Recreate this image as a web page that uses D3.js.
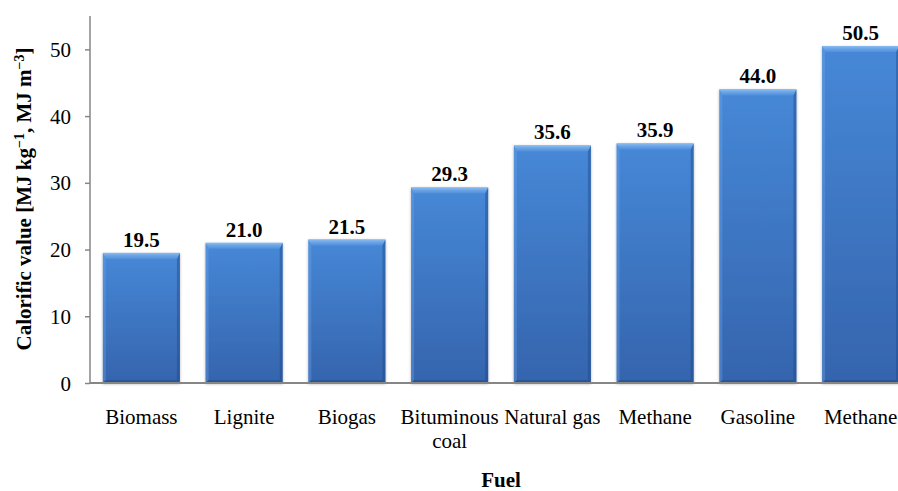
<!DOCTYPE html>
<html>
<head>
<meta charset="utf-8">
<script src="https://cdn.jsdelivr.net/npm/d3@7"></script>
<style>
  body { margin: 0; background: #fff; }
  svg text { font-family: "Liberation Serif", "DejaVu Serif", "Times New Roman", serif !important; fill: #000; }
</style>
</head>
<body>
<div class="chart"></div>
<script>
// calorific values of fuels
var fuels = ["Biomass", "Lignite", "Biogas", "Bituminous coal", "Natural gas", "Methane", "Gasoline", "Methane"];
var values = [19.5, 21.0, 21.5, 29.3, 35.6, 35.9, 44.0, 50.5];
var yTicks = [0, 10, 20, 30, 40, 50];

WIDTH = 898
HEIGHT = 491
LEFT = 90
TOP = 16
BOTTOM = 383
RIGHT = 912   // plot area runs past the picture edge, as in the original

var svg = d3.select(".chart").append("svg")
	.attr("width", WIDTH)
	.attr("height", HEIGHT);

var defs = svg.append("defs");

var body = defs.append("linearGradient")
	.attr("id", "barBody")
	.attr("x1", 0).attr("y1", 0).attr("x2", 0).attr("y2", 1);
body.append("stop").attr("offset", "0%").attr("stop-color", "#4688d7");
body.append("stop").attr("offset", "100%").attr("stop-color", "#3564ad");

var topFace = defs.append("linearGradient")
	.attr("id", "topFace")
	.attr("x1", 0).attr("y1", 0).attr("x2", 0).attr("y2", 1);
topFace.append("stop").attr("offset", "0%").attr("stop-color", "#9ccaf7").attr("stop-opacity", 0.8);
topFace.append("stop").attr("offset", "100%").attr("stop-color", "#6fa8ec").attr("stop-opacity", 0.3);

var shadow = defs.append("filter")
	.attr("id", "shadow")
	.attr("x", "-10%").attr("y", "-10%").attr("width", "120%").attr("height", "120%");
shadow.append("feGaussianBlur").attr("in", "SourceAlpha").attr("stdDeviation", 1.5);
shadow.append("feOffset").attr("dx", 0).attr("dy", 1).attr("result", "blur");
shadow.append("feComponentTransfer").append("feFuncA").attr("type", "linear").attr("slope", 0.3);
var merge = shadow.append("feMerge");
merge.append("feMergeNode");
merge.append("feMergeNode").attr("in", "SourceGraphic");

var x = d3.scaleBand()
	.domain(d3.range(fuels.length))
	.range([LEFT, RIGHT])
	.paddingInner(0.25)
	.paddingOuter(0.125);

var y = d3.scaleLinear()
	.domain([0, 55])
	.range([BOTTOM, TOP]);

// bars
var BEVEL_T = 6, BEVEL_S = 3, BEVEL_B = 3;

var bars = svg.append("g").selectAll("g")
	.data(values)
	.join("g")
	.attr("filter", "url(#shadow)");

bars.append("rect")
	.attr("x", function(d, i) { return x(i); })
	.attr("y", function(d) { return y(d); })
	.attr("width", x.bandwidth())
	.attr("height", function(d) { return BOTTOM - y(d); })
	.style("fill", "url(#barBody)");

// bevel faces
function face(pts, color, op) {
	bars.append("polygon")
		.attr("points", function(d, i) {
			var x0 = x(i), x1 = x(i) + x.bandwidth(), y0 = y(d), y1 = BOTTOM;
			return pts(x0, x1, y0, y1).map(function(p) { return p.join(","); }).join(" ");
		})
		.style("fill", color)
		.style("fill-opacity", op);
}
// top
face(function(x0, x1, y0, y1) {
	return [[x0, y0], [x1, y0], [x1 - BEVEL_S, y0 + BEVEL_T], [x0 + BEVEL_S, y0 + BEVEL_T]];
}, "url(#topFace)", 1);
// left
face(function(x0, x1, y0, y1) {
	return [[x0, y0], [x0 + BEVEL_S, y0 + BEVEL_T], [x0 + BEVEL_S, y1 - BEVEL_B], [x0, y1]];
}, "#6fa6ea", 0.35);
// right
face(function(x0, x1, y0, y1) {
	return [[x1, y0], [x1, y1], [x1 - BEVEL_S, y1 - BEVEL_B], [x1 - BEVEL_S, y0 + BEVEL_T]];
}, "#1f4a8a", 0.45);
// bottom
face(function(x0, x1, y0, y1) {
	return [[x0, y1], [x0 + BEVEL_S, y1 - BEVEL_B], [x1 - BEVEL_S, y1 - BEVEL_B], [x1, y1]];
}, "#1f4480", 0.5);

// value labels
svg.append("g").selectAll("text")
	.data(values)
	.join("text")
	.attr("x", function(d, i) { return x(i) + x.bandwidth() / 2; })
	.attr("y", function(d) { return y(d) - 6; })
	.attr("text-anchor", "middle")
	.style("font-size", "21px")
	.style("font-weight", "bold")
	.text(function(d) { return d.toFixed(1); });

// y axis
var yAxis = svg.append("g")
	.attr("transform", "translate(" + LEFT + ",0)")
	.call(d3.axisLeft(y).tickValues(yTicks).tickSize(5).tickPadding(14).tickSizeOuter(0));
yAxis.select(".domain").attr("d", "M0," + TOP + "V" + BOTTOM).style("stroke", "#868686").style("stroke-width", 1.5);
yAxis.selectAll(".tick line").style("stroke", "#868686").style("stroke-width", 1.5);
yAxis.selectAll(".tick text")
	.style("font-size", "21px")
	.attr("dy", "0.34em");

// x axis
var xAxis = svg.append("g")
	.attr("transform", "translate(0," + BOTTOM + ")")
	.call(d3.axisBottom(x).tickSize(0).tickPadding(0).tickFormat(function(i) { return fuels[i]; }));
xAxis.select(".domain").attr("d", "M" + LEFT + ",0H" + RIGHT).style("stroke", "#868686").style("stroke-width", 2);
xAxis.selectAll(".tick text")
	.style("font-size", "21px")
	.attr("dy", null)
	.attr("y", 41)
	.each(function(i) {
		var t = d3.select(this);
		var words = fuels[i] === "Bituminous coal" ? ["Bituminous", "coal"] : [fuels[i]];
		t.text(null);
		words.forEach(function(w, k) {
			t.append("tspan").attr("x", 0).attr("dy", k === 0 ? 0 : 24).text(w);
		});
	});

// axis titles
svg.append("text")
	.attr("x", (LEFT + RIGHT) / 2)
	.attr("y", 487)
	.attr("text-anchor", "middle")
	.style("font-size", "21px")
	.style("font-weight", "bold")
	.text("Fuel");

var yTitle = svg.append("text")
	.attr("transform", "translate(31,199) rotate(-90)")
	.attr("text-anchor", "middle")
	.style("font-size", "21px")
	.style("font-weight", "bold");
yTitle.append("tspan").text("Calorific value [MJ kg");
yTitle.append("tspan").attr("baseline-shift", "super").style("font-size", "14px").text("\u22121");
yTitle.append("tspan").text(", MJ m");
yTitle.append("tspan").attr("baseline-shift", "super").style("font-size", "14px").text("\u22123");
yTitle.append("tspan").text("]");
</script>
</body>
</html>
